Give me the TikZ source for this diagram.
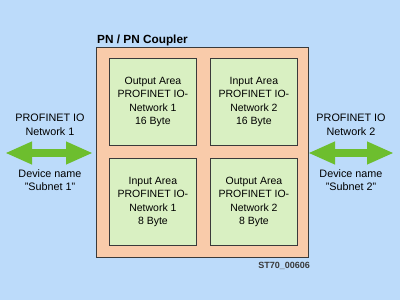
\documentclass[tikz,border=0pt]{standalone}
\usepackage{fontspec}
\setmainfont{Liberation Sans}
\usetikzlibrary{arrows.meta}
\definecolor{bgblue}{HTML}{BCDBFA}
\definecolor{coupler}{HTML}{F9CBAA}
\definecolor{areagreen}{HTML}{D9F0C2}
\definecolor{arrowgreen}{HTML}{6DBE2E}
\definecolor{edge}{HTML}{3A3A3A}
\begin{document}
\begin{tikzpicture}[x=1pt,y=-1pt,
  area/.style={draw=edge,line width=0.8pt,fill=areagreen,minimum width=87pt,minimum height=87pt,anchor=north west,align=center,font=\fontsize{10.5}{13.5}\selectfont,inner sep=0pt},
  lbl/.style={align=center,font=\fontsize{10.8}{13.5}\selectfont,inner sep=0pt},
  netarrow/.style={line width=8pt,arrowgreen,{Triangle[length=27pt,width=21pt]}-{Triangle[length=27pt,width=21pt]}}]
\fill[bgblue] (0,0) rectangle (400,300);
\useasboundingbox (0,0) rectangle (400,300);
\node[draw=edge,line width=0.8pt,fill=coupler,minimum width=212pt,minimum height=210pt,anchor=north west,inner sep=0pt] (coupler) at (96,47) {};
\node[anchor=base west,inner sep=0pt,font=\bfseries\fontsize{11.8}{14}\selectfont] (title) at (97,43) {PN / PN Coupler};
\node[area] (o1) at (109,58) {Output Area\\PROFINET IO-\\Network 1\\16 Byte};
\node[area] (i2) at (210,58) {Input Area\\PROFINET IO-\\Network 2\\16 Byte};
\node[area] (i1) at (109,158) {Input Area\\PROFINET IO-\\Network 1\\8 Byte};
\node[area] (o2) at (210,158) {Output Area\\PROFINET IO-\\Network 2\\8 Byte};
\node[lbl] (n1) at (50,125) {PROFINET IO\\Network 1};
\node[lbl] (d1) at (50,180) {Device name\\"Subnet 1"};
\node[lbl] (n2) at (351,125) {PROFINET IO\\Network 2};
\node[lbl] (d2) at (351,180) {Device name\\"Subnet 2"};
\coordinate (la) at (5,153);
\coordinate (lb) at (93,153);
\coordinate (ra) at (308,153);
\coordinate (rb) at (394,153);
\draw[netarrow] (la) -- (lb);
\draw[netarrow] (ra) -- (rb);
\node[anchor=base east,inner sep=0pt,font=\bfseries\fontsize{9}{11}\selectfont,text=edge] (ref) at (310,268) {ST70\_00606};
\end{tikzpicture}
\end{document}
